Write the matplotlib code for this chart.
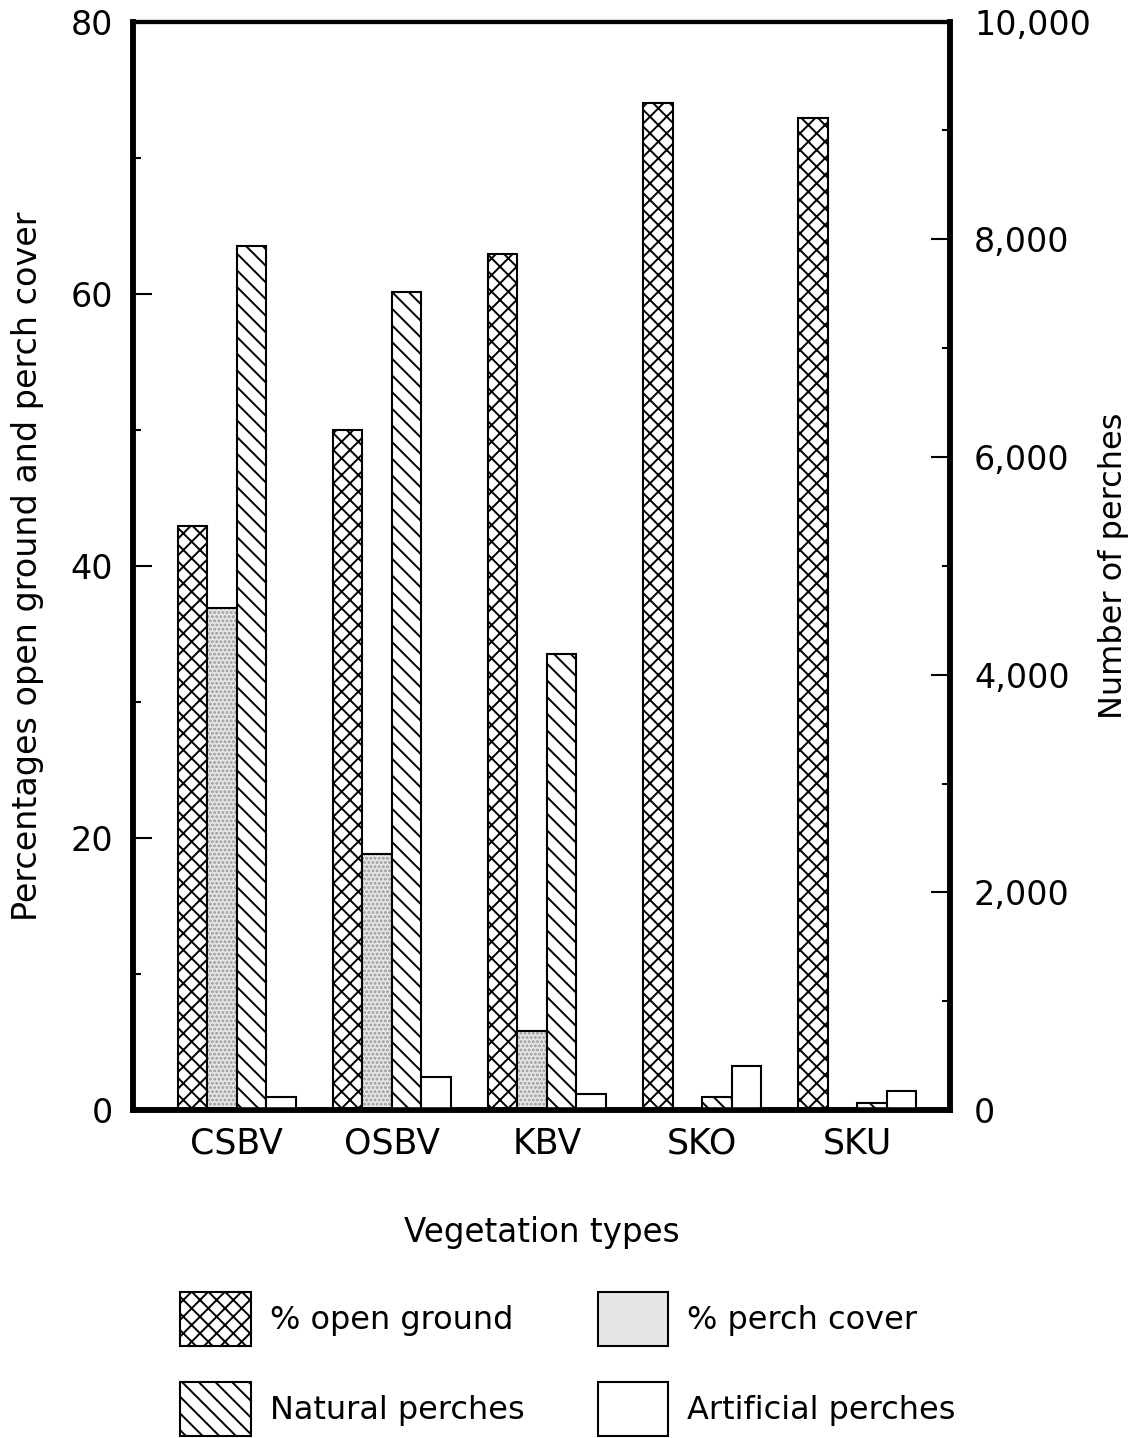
import matplotlib
matplotlib.use("Agg")
import matplotlib.pyplot as plt
import numpy as np
from matplotlib.patches import Patch
from matplotlib.ticker import FuncFormatter, MultipleLocator

plt.rcParams['font.family'] = ['DejaVu Sans']
plt.rcParams['hatch.linewidth'] = 1.4

# vegetation types and measured values
veg_types = ["CSBV", "OSBV", "KBV", "SKO", "SKU"]
open_ground = [42.9, 50.0, 62.9, 74.0, 72.9]      # % of area
perch_cover = [36.9, 18.8, 5.8, 0.0, 0.0]         # % of area
natural_perches = [7940, 7520, 4190, 120, 65]     # count
artificial_perches = [125, 300, 150, 410, 175]    # count

fig = plt.figure(figsize=(11.34, 14.38), dpi=100)
ax = fig.add_axes([0.117, 0.228, 0.721, 0.757])
ax2 = ax.twinx()

x = np.arange(len(veg_types))
w = 0.19

# percentage bars on the left scale
ax.bar(x - 1.5 * w, open_ground, w, facecolor="white", edgecolor="black",
       linewidth=1.5, hatch="xx")
ax.bar(x - 0.5 * w, perch_cover, w, facecolor="#e6e6e6", edgecolor="#999999",
       linewidth=0, hatch="....")
ax.bar(x - 0.5 * w, perch_cover, w, facecolor="none", edgecolor="black",
       linewidth=1.5)

# perch counts on the right scale
ax2.bar(x + 0.5 * w, natural_perches, w, facecolor="white", edgecolor="black",
        linewidth=1.5, hatch="\\\\")
ax2.bar(x + 1.5 * w, artificial_perches, w, facecolor="white", edgecolor="black",
        linewidth=1.5)

ax.set_xlim(-0.67, 4.6)
ax.set_ylim(0, 80)
ax2.set_ylim(0, 10000)

ax.set_xticks(x)
ax.set_xticklabels(veg_types, fontsize=25)
ax.tick_params(axis="x", length=0, pad=12)

ax.yaxis.set_major_locator(MultipleLocator(20))
ax.yaxis.set_minor_locator(MultipleLocator(10))
ax.tick_params(axis="y", which="major", direction="in", length=14, width=1.5,
               labelsize=24, pad=14)
ax.tick_params(axis="y", which="minor", direction="in", length=6, width=1.5)

ax2.yaxis.set_major_locator(MultipleLocator(2000))
ax2.yaxis.set_minor_locator(MultipleLocator(1000))
ax2.yaxis.set_major_formatter(FuncFormatter(lambda v, p: f"{int(v):,}"))
ax2.tick_params(axis="y", which="major", direction="in", length=14, width=1.5,
                labelsize=24, pad=17)
ax2.tick_params(axis="y", which="minor", direction="in", length=6, width=1.5)

for a in (ax, ax2):
    for side in ("left", "right", "bottom"):
        a.spines[side].set_linewidth(4)
    a.spines["top"].set_linewidth(3)

ax.set_ylabel("Percentages open ground and perch cover", fontsize=24, labelpad=19)
ax2.set_ylabel("Number of perches", fontsize=23, labelpad=5)
ax.set_xlabel("Vegetation types", fontsize=23.5, labelpad=40)

handles = [
    Patch(facecolor="white", edgecolor="black", linewidth=1.5, hatch="xx"),
    Patch(facecolor="white", edgecolor="black", linewidth=1.5, hatch="\\\\"),
    Patch(facecolor="#e6e6e6", edgecolor="black", linewidth=1.5),
    Patch(facecolor="white", edgecolor="black", linewidth=1.5),
]
labels = ["% open ground", "Natural perches", "% perch cover", "Artificial perches"]
fig.legend(handles, labels, ncol=2, loc="upper left", bbox_to_anchor=(0.159, 0.1015),
           frameon=False, fontsize=23, handlelength=2.2, handleheight=2.2,
           labelspacing=1.15, columnspacing=2.3, handletextpad=0.6,
           borderaxespad=0, borderpad=0)

fig.savefig("out.png", dpi=100)
